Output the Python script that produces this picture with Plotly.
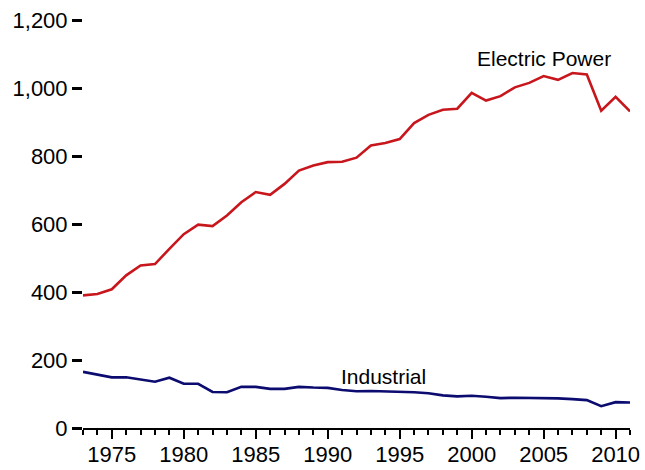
import plotly.graph_objects as go

years = list(range(1973, 2012))
electric_power = [390, 394, 408, 449, 478, 482, 527, 570, 598, 594,
                  625, 664, 694, 686, 718, 757, 772, 782, 783, 795,
                  831, 838, 850, 897, 921, 936, 939, 986, 963, 976,
                  1002, 1015, 1035, 1024, 1044, 1040, 933, 974, 931]
industrial = [165, 157, 149, 149, 142, 136, 148, 130, 130, 106,
              105, 121, 121, 115, 115, 121, 119, 118, 112, 108,
              109, 108, 107, 105, 102, 96, 93, 95, 92, 88,
              89, 89, 88, 87, 85, 82, 64, 76, 75]

x_ticks = [1975, 1980, 1985, 1990, 1995, 2000, 2005, 2010]
y_ticks = [0, 200, 400, 600, 800, 1000, 1200]

RED = "#C8161D"
NAVY = "#0B0B70"
FONT = "Liberation Sans, Arial, sans-serif"

fig = go.Figure()
fig.add_trace(go.Scatter(x=years, y=electric_power, mode="lines",
                         line=dict(color=RED, width=2.6), name="Electric Power",
                         showlegend=False))
fig.add_trace(go.Scatter(x=years, y=industrial, mode="lines",
                         line=dict(color=NAVY, width=2.6), name="Industrial",
                         showlegend=False))

fig.add_annotation(x=2005, y=1088, text="Electric Power", showarrow=False,
                   font=dict(family=FONT, size=21, color="black"))
fig.add_annotation(x=1993.85, y=151, text="Industrial", showarrow=False,
                   font=dict(family=FONT, size=21, color="black"))

fig.update_layout(
    width=645, height=470,
    margin=dict(l=83, r=15, t=20, b=41.5, autoexpand=False),
    plot_bgcolor="white", paper_bgcolor="white",
    font=dict(family=FONT, size=22, color="black"),
    xaxis=dict(range=[1973, 2011], tickvals=x_ticks, ticks="outside",
               ticklen=9, tickwidth=2, tickcolor="black",
               showline=True, linecolor="black", linewidth=2,
               showgrid=False, zeroline=False, automargin=False,
               ticklabeloverflow="allow", ticklabelstandoff=-3,
               minor=dict(dtick=1, tick0=1973, ticks="outside", ticklen=5,
                          tickwidth=2, tickcolor="black", showgrid=False),
               tickfont=dict(family=FONT, size=22, color="black")),
    yaxis=dict(range=[0, 1200], tickvals=y_ticks, tickformat=",d",
               ticks="outside", ticklen=10, tickwidth=2.5, tickcolor="black",
               showline=False, showgrid=False, zeroline=False, automargin=False,
               ticklabeloverflow="allow",
               tickfont=dict(family=FONT, size=22, color="black")),
)

fig.write_html("out.html", config={"displayModeBar": False},
               post_script="document.body.style.margin='0';"
                           "document.body.style.overflow='hidden';")
